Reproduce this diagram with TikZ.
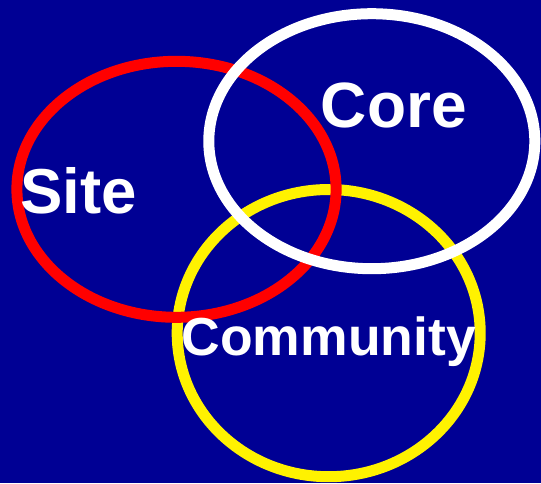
\documentclass[tikz,border=0pt]{standalone}
\usepackage{fontspec}
\setmainfont{Liberation Sans}
\usetikzlibrary{positioning}

\definecolor{slideblue}{RGB}{0,0,148}

\begin{document}
\begin{tikzpicture}[
    x=1pt, y=-1pt,
    ring/.style={line width=11pt},
    label/.style={text=white, font=\bfseries, inner sep=0pt, anchor=base},
]

% background
\fill[slideblue] (0,0) rectangle (541,483);
\useasboundingbox (0,0) rectangle (541,483);

% rings: yellow at the back, white on top
\draw[ring, yellow] (328.7,333.1) ellipse [x radius=151.5, y radius=143.6];
\draw[ring, red]    (176.5,189.3) ellipse [x radius=159.6, y radius=128];
\draw[ring, white]  (371.8,141.2) ellipse [x radius=163, y radius=127.5];

% labels
\node[label, font=\bfseries\fontsize{63.5}{64}\selectfont] (site) at (78.8,213) {Site};
\node[label, font=\bfseries\fontsize{64}{64}\selectfont] (core) at (393.9,127) {Core};
\node[label, font=\bfseries\fontsize{53.5}{54}\selectfont] (community) at (328.7,355) {Community};

\end{tikzpicture}
\end{document}
